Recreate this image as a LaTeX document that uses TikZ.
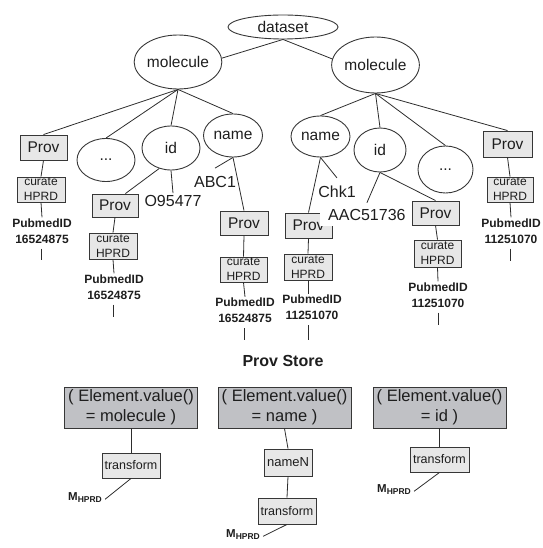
\documentclass[tikz,border=0pt]{standalone}
\usepackage{fontspec}
\setmainfont{Liberation Sans}
\usetikzlibrary{shapes.geometric}
\newcommand\fsz[2]{\fontsize{#1}{#2}\selectfont}
\definecolor{txt}{RGB}{30,30,30}
\definecolor{bord}{RGB}{55,55,55}
\definecolor{lin}{RGB}{45,45,45}
\definecolor{boxfill}{RGB}{231,231,231}
\definecolor{greyfill}{RGB}{192,193,197}
\begin{document}
\begin{tikzpicture}[x=1pt,y=-1pt,
  every node/.style={text=txt},
  ell/.style={ellipse, draw=bord, line width=0.9pt, inner sep=0pt, font=\fsz{15.5}{18}},
  provbox/.style={rectangle, draw=bord, fill=boxfill, line width=0.9pt, inner sep=0pt, font=\fsz{15.5}{18}},
  curbox/.style={rectangle, draw=bord, fill=boxfill, line width=0.9pt, inner sep=0pt},
  curlab/.style={font=\fsz{12}{15}, align=center, text=txt},
  pub/.style={font=\fsz{12}{16}\bfseries, align=center, inner sep=1pt},
  lbl/.style={font=\fsz{16}{19}, inner sep=2pt},
  greybox/.style={rectangle, draw=bord, fill=greyfill, line width=0.9pt, inner sep=0pt, minimum width=133pt, minimum height=41pt, font=\fsz{16.5}{20}, align=center},
  smallbox/.style={rectangle, draw=bord, fill=boxfill, line width=0.9pt, inner sep=0pt, minimum height=26pt},
  mlab/.style={font=\fsz{11.5}{13}\bfseries, inner sep=0pt},
  edge/.style={draw=lin, line width=0.8pt}
]
\useasboundingbox (0,0) rectangle (542,548);

% top level
\node[ell, minimum width=110pt, minimum height=24pt] (ds) at (283,27) {dataset};
\node[ell, minimum width=85pt, minimum height=54pt] (m1) at (178,62) {molecule};
\node[ell, minimum width=85pt, minimum height=56pt] (m2) at (375.5,65) {molecule};

% left subtree
\node[provbox, minimum width=47pt, minimum height=25pt] (p1) at (43.5,147.5) {Prov};
\node[ell, minimum width=58pt, minimum height=43pt] (d1) at (106,160) {...};
\node[ell, minimum width=58pt, minimum height=44pt] (id1) at (171,148) {id};
\node[ell, minimum width=59pt, minimum height=43pt] (nm1) at (233,135.5) {name};

\node[curbox, minimum width=48pt, minimum height=25pt, label={[curlab]center:{curate\\HPRD}}] (c1) at (41,189.5) {};
\node[pub] (pm1) at (42,231) {PubmedID\\16524875};
\coordinate (tk1) at (41,260);

\node[provbox, minimum width=46pt, minimum height=23pt] (p2) at (115,205.5) {Prov};
\node[curbox, minimum width=48pt, minimum height=26pt, label={[curlab]center:{curate\\HPRD}}] (c2) at (113,246) {};
\node[pub] (pm2) at (114,287) {PubmedID\\16524875};
\coordinate (tk2) at (113,317);
\node[lbl] (o95) at (173,201) {O95477};

\node[lbl] (abc) at (215,182) {ABC1};
\node[provbox, minimum width=48pt, minimum height=24pt] (p3) at (244,223) {Prov};
\node[curbox, minimum width=47pt, minimum height=25pt, label={[curlab]center:{curate\\HPRD}}] (c3) at (243.5,269.5) {};
\node[pub] (pm3) at (245,310.5) {PubmedID\\16524875};
\coordinate (tk3) at (244,340);

% right subtree
\node[ell, minimum width=59pt, minimum height=41pt] (nm2) at (320.5,136.5) {name};
\node[ell, minimum width=52pt, minimum height=44pt] (id2) at (380,150) {id};
\node[ell, minimum width=55pt, minimum height=47pt] (d2) at (445.5,169.5) {...};
\node[provbox, minimum width=49pt, minimum height=26pt] (p6) at (507.5,144) {Prov};
\node[curbox, minimum width=46pt, minimum height=25pt, label={[curlab]center:{curate\\HPRD}}] (c6) at (510,189.5) {};
\node[pub] (pm6) at (511,231) {PubmedID\\11251070};
\coordinate (tk6) at (510,261);

\node[lbl] (chk) at (337,192) {Chk1};
\node[provbox, minimum width=47pt, minimum height=25pt] (p4) at (308.5,225.5) {Prov};
\node[lbl, fill=white, anchor=west, inner xsep=8pt, inner ysep=1pt, text height=11.5pt, text depth=4.5pt] (aac) at (320,217) {AAC51736};
\node[curbox, minimum width=48pt, minimum height=26pt, label={[curlab]center:{curate\\HPRD}}] (c4) at (308,267) {};
\node[pub] (pm4) at (312,307.5) {PubmedID\\11251070};
\coordinate (tk4) at (308,340);

\node[provbox, minimum width=47pt, minimum height=24pt] (p5) at (435.5,213) {Prov};
\node[curbox, minimum width=47pt, minimum height=27pt, label={[curlab]center:{curate\\HPRD}}] (c5) at (437.5,253.5) {};
\node[pub] (pm5) at (438,295) {PubmedID\\11251070};
\coordinate (tk5) at (438,325);

% connectors top
\draw[edge] (ds.south) -- (m1.5);
\draw[edge] (ds.south) -- (m2.172);
\foreach \t in {p1,d1,id1,nm1} \draw[edge] (m1.south) -- (\t.north);
\foreach \t in {nm2,id2,d2,p6} \draw[edge] (m2.south) -- (\t.north);

% left connectors
\draw[edge] (p1.south) -- (c1.north);
\draw[edge] (c1.south) -- (pm1.north);
\draw[edge] ([yshift=-4pt]tk1 |- pm1.south) -- (tk1);
\draw[edge] (id1.south) -- (o95.north);
\draw[edge] (id1.240) -- ([xshift=-13pt]p2.north east);
\draw[edge] (p2.south) -- (c2.north);
\draw[edge] (c2.south) -- (pm2.north);
\draw[edge] ([yshift=-4pt]tk2 |- pm2.south) -- (tk2);
\draw[edge] (nm1.south) -- ([yshift=6pt]abc.north);
\draw[edge] (nm1.south) -- (p3.north);
\draw[edge] (p3.south) -- (c3.north);
\draw[edge] (c3.south) -- (pm3.north);
\draw[edge] ([yshift=-4pt]tk3 |- pm3.south) -- (tk3);

% right connectors
\draw[edge] (nm2.south) -- ([yshift=6pt]chk.north);
\draw[edge] (nm2.south) -- (p4.north);
\draw[edge] (p4.south) -- (c4.north);
\draw[edge] (c4.south) -- (pm4.north -| c4.south);
\draw[edge] ([yshift=-4pt]tk4 |- pm4.south) -- (tk4);
\draw[edge] (id2.south) -- ([yshift=5pt]aac.north);
\draw[edge] (id2.south) -- (p5.north);
\draw[edge] (p5.south) -- (c5.north);
\draw[edge] (c5.south) -- (pm5.north);
\draw[edge] ([yshift=-4pt]tk5 |- pm5.south) -- (tk5);
\draw[edge] (p6.south) -- (c6.north);
\draw[edge] (c6.south) -- (pm6.north);
\draw[edge] ([yshift=-4pt]tk6 |- pm6.south) -- (tk6);

% Prov Store
\node[font=\fsz{16}{19}\bfseries] (ps) at (283,361) {Prov Store};
\node[greybox] (g1) at (131,407.5) {( Element.value()\\= molecule )};
\node[greybox] (g2) at (284.5,407.5) {( Element.value()\\= name )};
\node[greybox] (g3) at (439.5,407.5) {( Element.value()\\= id )};

\node[smallbox, minimum width=58pt, minimum height=25pt, font=\fsz{12.5}{15}] (tr1) at (131,465.5) {transform};
\node[smallbox, minimum width=48pt, minimum height=27pt, font=\fsz{13}{15}] (nN) at (288,462.5) {nameN};
\node[smallbox, minimum width=58pt, minimum height=26pt, font=\fsz{12.5}{15}] (tr2) at (287,511) {transform};
\node[smallbox, minimum width=59pt, minimum height=25pt, font=\fsz{12.5}{15}] (tr3) at (439.5,459.5) {transform};

\node[mlab, anchor=base west] (M1) at (68,500) {M\raisebox{-2.5pt}{\fsz{8.5}{9}HPRD}};
\node[mlab, anchor=base west] (M2) at (226,537) {M\raisebox{-2.5pt}{\fsz{8.5}{9}HPRD}};
\node[mlab, anchor=base west] (M3) at (377,492) {M\raisebox{-2.5pt}{\fsz{8.5}{9}HPRD}};

\draw[edge] (g1.south) -- (tr1.north);
\draw[edge] (g2.south) -- (nN.north);
\draw[edge] (nN.south) -- (tr2.north);
\draw[edge] (g3.south) -- (tr3.north);
\draw[edge] (tr1.south) -- ([xshift=3pt,yshift=-2pt]M1.east);
\draw[edge] (tr2.south) -- ([xshift=3pt,yshift=-2pt]M2.east);
\draw[edge] (tr3.south) -- ([xshift=3pt,yshift=-2pt]M3.east);
\end{tikzpicture}
\end{document}
